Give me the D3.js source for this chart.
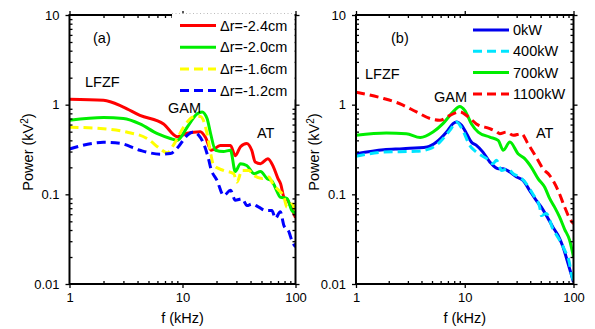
<!DOCTYPE html>
<html>
<head>
<meta charset="utf-8">
<script src="https://cdn.jsdelivr.net/npm/d3@7"></script>
<style>
  body { margin: 0; background: #fff; }
  svg { display: block; font-family: "Liberation Sans", Arial, sans-serif; }
</style>
</head>
<body>
<svg id="chart" width="595" height="329"></svg>
<script>
// panel (a): radial position scan
const fRed_a = [1, 2, 3, 4.2, 6.8, 9, 11, 14.4, 16, 18, 21.6, 26.6, 29.3, 32.6, 37, 41, 44, 49, 57, 64, 70, 74, 79, 85, 94, 100];
const pRed_a = [1.15, 1.12, 0.94, 0.76, 0.61, 0.44, 0.48, 0.50, 0.43, 0.31, 0.35, 0.35, 0.27, 0.34, 0.37, 0.31, 0.23, 0.22, 0.25, 0.20, 0.15, 0.13, 0.093, 0.086, 0.066, 0.055];

const fGreen_a = [1, 2, 3, 4.2, 6, 7.8, 9, 11, 13.5, 14.9, 16.5, 17.7, 19.6, 23, 26.6, 29.3, 32.6, 37, 43, 49, 56, 62, 69, 73, 84, 93, 100];
const pGreen_a = [0.67, 0.72, 0.70, 0.61, 0.475, 0.42, 0.40, 0.56, 0.79, 0.83, 0.70, 0.48, 0.31, 0.30, 0.31, 0.18, 0.22, 0.21, 0.17, 0.18, 0.15, 0.14, 0.106, 0.093, 0.09, 0.066, 0.062];

const fYellow_a = [1, 2, 3.2, 4.85, 6.4, 7.3, 8.6, 10.2, 12.5, 14.4, 16.5, 17.7, 18.9, 23, 28.4, 30.3, 33.7, 38.6, 42.7, 50.6, 58, 64, 71, 79, 84, 93, 100];
const pYellow_a = [0.56, 0.54, 0.495, 0.42, 0.32, 0.29, 0.38, 0.56, 0.73, 0.74, 0.475, 0.29, 0.21, 0.185, 0.17, 0.137, 0.185, 0.185, 0.163, 0.15, 0.156, 0.126, 0.111, 0.093, 0.072, 0.078, 0.066];

const fBlue_a = [1, 2, 2.8, 4.2, 6.4, 7.8, 9.2, 11, 12.5, 13.9, 15.4, 17.1, 17.7, 20.2, 23.2, 26.6, 29.3, 33.7, 37.2, 41.3, 47.3, 54.3, 61.8, 66.4, 73.4, 78.9, 87.6, 93.2, 100];
const pBlue_a = [0.32, 0.38, 0.37, 0.31, 0.28, 0.285, 0.34, 0.455, 0.495, 0.455, 0.367, 0.24, 0.20, 0.143, 0.097, 0.111, 0.086, 0.089, 0.075, 0.078, 0.072, 0.066, 0.066, 0.054, 0.064, 0.045, 0.038, 0.03, 0.026];

// panel (b): heating power scan
const fBlue_b = [1, 1.8, 2.7, 4.5, 5.5, 6.8, 7.8, 8.4, 9.35, 10.4, 11.5, 12.8, 14.7, 17, 20.3, 22.6, 26, 30, 34.4, 39.6, 45.6, 50.6, 56.3, 64.7, 72, 80, 89, 95, 100];
const pBlue_b = [0.284, 0.315, 0.323, 0.337, 0.383, 0.495, 0.614, 0.64, 0.588, 0.475, 0.383, 0.352, 0.296, 0.23, 0.193, 0.193, 0.177, 0.156, 0.143, 0.11, 0.085, 0.072, 0.058, 0.043, 0.035, 0.026, 0.017, 0.013, 0.0105];

const fCyan_b = [1, 1.8, 3.6, 4.8, 5.9, 7.3, 8.4, 9.6, 11.1, 12.8, 15.9, 18.2, 19.6, 21.8, 24.9, 27.9, 32, 36.9, 42.4, 48.9, 50.6, 56.3, 64.7, 74.4, 82.7, 91.9, 95.3, 100];
const pCyan_b = [0.265, 0.296, 0.302, 0.323, 0.383, 0.517, 0.64, 0.517, 0.352, 0.296, 0.25, 0.22, 0.24, 0.185, 0.193, 0.17, 0.156, 0.131, 0.10, 0.072, 0.058, 0.061, 0.041, 0.031, 0.024, 0.017, 0.013, 0.011];

const fGreen_b = [1, 1.9, 2.9, 3.9, 5.1, 6.3, 7.8, 9, 10, 11.5, 13.3, 17, 20.3, 22.6, 26, 30.9, 35.6, 41, 47.2, 54.4, 60.3, 67, 74.4, 82.7, 91.9, 100];
const pGreen_b = [0.455, 0.483, 0.475, 0.43, 0.495, 0.614, 0.83, 0.957, 0.864, 0.614, 0.495, 0.435, 0.40, 0.31, 0.383, 0.284, 0.25, 0.20, 0.15, 0.12, 0.09, 0.072, 0.056, 0.041, 0.031, 0.02];

const fRed_b = [1, 1.8, 2.5, 3.6, 4.8, 5.9, 7.3, 9, 10.8, 12.8, 17, 19.6, 21, 24.2, 27.9, 33.2, 38.1, 45.4, 52.4, 60.3, 72, 83, 92, 100];
const pRed_b = [1.38, 1.17, 1.03, 0.83, 0.70, 0.67, 0.76, 0.83, 0.73, 0.61, 0.54, 0.50, 0.475, 0.495, 0.455, 0.475, 0.367, 0.26, 0.193, 0.163, 0.111, 0.072, 0.054, 0.047];

const legendA = ["\u0394r=-2.4cm", "\u0394r=-2.0cm", "\u0394r=-1.6cm", "\u0394r=-1.2cm"];
const legendB = ["0kW", "400kW", "700kW", "1100kW"];

const xMajor = [1, 10, 100];
const yMajor = [0.01, 0.1, 1, 10];

const svg = d3.select("#chart");

function minorTicks(lo, hi) {
  const out = [];
  for (let d = lo; d < hi; d *= 10) {
    for (let k = 2; k <= 9; k++) out.push(d * k);
  }
  return out;
}

function drawPanel(opts) {
  const x = d3.scaleLog().domain([1, 100]).range([opts.x0, opts.x1]);
  const y = d3.scaleLog().domain([0.01, 10]).range([284, 15]);
  const g = svg.append("g");

  const clipId = "clip-" + opts.id;
  svg.append("clipPath").attr("id", clipId)
    .append("rect")
    .attr("x", opts.x0).attr("y", 15)
    .attr("width", opts.x1 - opts.x0).attr("height", 269);

  const line = d3.line()
    .x(d => x(d[0]))
    .y(d => y(d[1]))
    .curve(d3.curveMonotoneX);

  opts.series.forEach(s => {
    g.append("path")
      .datum(s.f.map((f, i) => [f, s.p[i]]))
      .attr("clip-path", `url(#${clipId})`)
      .attr("fill", "none")
      .attr("stroke", s.color)
      .attr("stroke-width", 3)
      .attr("stroke-dasharray", s.dash ? "9,5" : null)
      .attr("stroke-linejoin", "round")
      .attr("d", line);
  });

  const xMinor = minorTicks(1, 100);
  const yMinor = minorTicks(0.01, 10);

  const axes = g.append("g").attr("class", "axes");
  const styleAxis = sel => {
    sel.select(".domain").remove();
    sel.selectAll("line").attr("stroke", "#000").attr("stroke-width", 1.3);
    sel.selectAll("text").attr("fill", "#000").style("font-size", "13px")
      .style("font-family", "'Liberation Sans', Arial, sans-serif");
  };

  // bottom
  axes.append("g").attr("transform", "translate(0,284)")
    .call(d3.axisBottom(x).tickValues(xMajor).tickSize(4).tickPadding(5).tickFormat(d3.format("d")))
    .call(styleAxis);
  axes.append("g").attr("transform", "translate(0,284)")
    .call(d3.axisBottom(x).tickValues(xMinor).tickSize(-3).tickFormat(""))
    .call(styleAxis);
  // top
  axes.append("g").attr("transform", "translate(0,15)")
    .call(d3.axisTop(x).tickValues(xMajor).tickSize(4).tickFormat(""))
    .call(styleAxis);
  axes.append("g").attr("transform", "translate(0,15)")
    .call(d3.axisTop(x).tickValues(xMinor).tickSize(-3).tickFormat(""))
    .call(styleAxis);
  // left
  axes.append("g").attr("transform", `translate(${opts.x0},0)`)
    .call(d3.axisLeft(y).tickValues(yMajor).tickSize(4).tickPadding(6).tickFormat(d => String(d)))
    .call(styleAxis);
  axes.append("g").attr("transform", `translate(${opts.x0},0)`)
    .call(d3.axisLeft(y).tickValues(yMinor).tickSize(-3).tickFormat(""))
    .call(styleAxis);
  // right
  axes.append("g").attr("transform", `translate(${opts.x1},0)`)
    .call(d3.axisRight(y).tickValues(yMajor).tickSize(4).tickFormat(""))
    .call(styleAxis);
  axes.append("g").attr("transform", `translate(${opts.x1},0)`)
    .call(d3.axisRight(y).tickValues(yMinor).tickSize(-3).tickFormat(""))
    .call(styleAxis);

  axes.append("rect")
    .attr("x", opts.x0).attr("y", 15)
    .attr("width", opts.x1 - opts.x0).attr("height", 269)
    .attr("fill", "none").attr("stroke", "#000").attr("stroke-width", 2);

  // legend
  const lg = g.append("g");
  if (opts.legendBg) {
    lg.append("rect")
      .attr("x", opts.legendBg[0]).attr("y", 13.5)
      .attr("width", opts.legendBg[1] - opts.legendBg[0]).attr("height", 86)
      .attr("fill", "#fff");
    lg.append("line")
      .attr("x1", opts.legendBg[0]).attr("x2", opts.legendBg[1])
      .attr("y1", 13.5).attr("y2", 13.5)
      .attr("stroke", "#bbb").attr("stroke-width", 1).attr("stroke-dasharray", "1,2.5");
  }
  opts.series.slice().sort((a, b) => a.order - b.order).forEach((s, i) => {
    const ly = opts.legendY + i * opts.legendStep;
    lg.append("line")
      .attr("x1", opts.legendX).attr("x2", opts.legendX + 36)
      .attr("y1", ly).attr("y2", ly)
      .attr("stroke", s.color).attr("stroke-width", 3)
      .attr("stroke-dasharray", s.dash ? "9,5" : null);
    lg.append("text")
      .attr("x", opts.legendX + 40).attr("y", ly + 5)
      .style("font-size", "14.5px")
      .text(s.label);
  });

  // annotations
  opts.notes.forEach(n => {
    g.append("text").attr("x", n[1]).attr("y", n[2])
      .style("font-size", "14.5px").text(n[0]);
  });

  // axis titles
  g.append("text")
    .attr("x", (opts.x0 + opts.x1) / 2).attr("y", 323)
    .attr("text-anchor", "middle").style("font-size", "14.5px")
    .text("f (kHz)");
  const yt = g.append("text")
    .attr("transform", `translate(${opts.x0 - 37},152) rotate(-90)`)
    .attr("text-anchor", "middle").style("font-size", "14.5px");
  yt.append("tspan").text("Power (kV");
  yt.append("tspan").attr("baseline-shift", "super").style("font-size", "10px").text("2");
  yt.append("tspan").text(")");
}

drawPanel({
  id: "a", x0: 69.5, x1: 295.5,
  series: [
    { f: fRed_a, p: pRed_a, color: "#ff0000", dash: false, label: legendA[0], order: 0 },
    { f: fGreen_a, p: pGreen_a, color: "#00ee00", dash: false, label: legendA[1], order: 1 },
    { f: fYellow_a, p: pYellow_a, color: "#ffff00", dash: true, label: legendA[2], order: 2 },
    { f: fBlue_a, p: pBlue_a, color: "#0000ff", dash: true, label: legendA[3], order: 3 }
  ],
  legendBg: [172, 294.5], legendX: 180, legendY: 25.5, legendStep: 21.7,
  notes: [["(a)", 93, 43], ["LFZF", 85, 87], ["GAM", 168, 113], ["AT", 257, 138]]
});

drawPanel({
  id: "b", x0: 356, x1: 573.5,
  series: [
    { f: fBlue_b, p: pBlue_b, color: "#0000ee", dash: false, label: legendB[0], order: 0 },
    { f: fCyan_b, p: pCyan_b, color: "#00e5ff", dash: true, label: legendB[1], order: 1 },
    { f: fGreen_b, p: pGreen_b, color: "#00ee00", dash: false, label: legendB[2], order: 2 },
    { f: fRed_b, p: pRed_b, color: "#ff0000", dash: true, label: legendB[3], order: 3 }
  ],
  legendBg: null, legendX: 473, legendY: 30, legendStep: 21.3,
  notes: [["(b)", 391, 43], ["LFZF", 365, 79], ["GAM", 434, 102], ["AT", 536, 138]]
});
</script>
</body>
</html>
